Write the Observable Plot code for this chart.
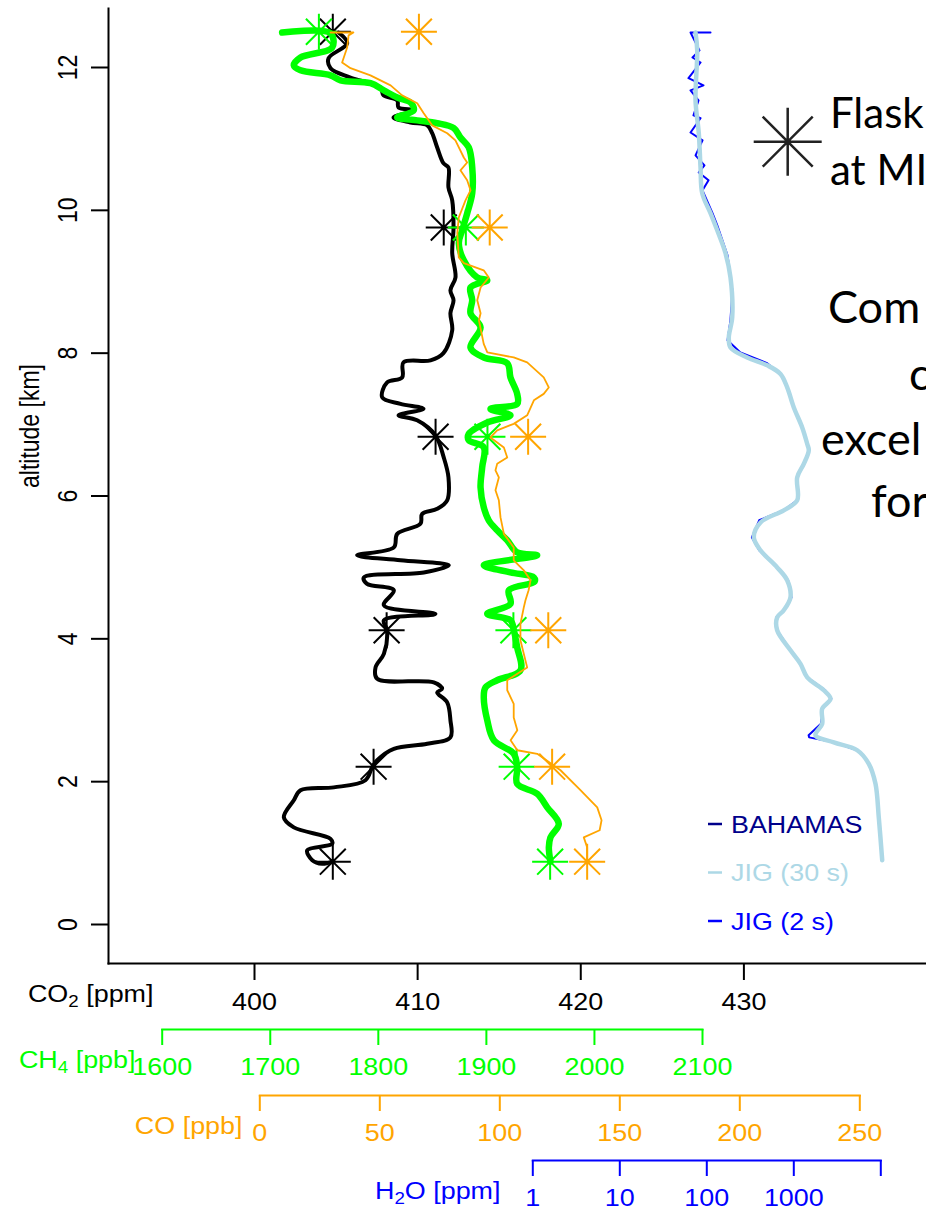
<!DOCTYPE html>
<html><head><meta charset="utf-8">
<script src="https://cdn.jsdelivr.net/npm/d3@7"></script>
<script src="https://cdn.jsdelivr.net/npm/@observablehq/plot@0.6"></script>
<style>
body{margin:0;background:#fff;}
#wrap{position:relative;width:926px;height:1210px;overflow:hidden;background:#fff;}
.layer{position:absolute;left:0;}
</style></head><body><div id="wrap"></div>
<script>
// ---------- tick values ----------
const altTicks = [0, 2, 4, 6, 8, 10, 12];
const co2Ticks = [400, 410, 420, 430];
const ch4Ticks = [1600, 1700, 1800, 1900, 2000, 2100];
const coTicks = [0, 50, 100, 150, 200, 250];
const h2oTicks = [1, 10, 100, 1000, 10000];
const h2oTickLabels = ["1", "10", "100", "1000", ""];

// ---------- flask samples (altitude km) ----------
const flaskAlt = [12.5, 9.76, 6.83, 4.12, 2.21, 0.88];
const flaskCO2 = [404.8, 411.6, 411.1, 408.1, 407.3, 404.8];
const flaskCH4 = [1745, 1881, 1901, 1925, 1928, 1959];
const flaskCO = [66.3, 95.8, 111.8, 120.2, 121.8, 136.4];

// ---------- profiles: [altitude km, value] ----------
const co2Profile = [
[12.49,405.15],[12.34,405.68],[12.13,404.54],[11.99,404.66],[11.86,405.88],[11.72,407.72],[11.61,407.91],
[11.54,408.75],[11.44,408.83],[11.40,409.75],[11.30,408.52],[11.23,409.56],[11.19,410.59],[11.08,410.89],
[10.88,411.20],[10.66,411.58],[10.60,411.89],[10.32,411.89],[10.14,412.12],[9.76,412.20],[9.40,412.12],
[9.06,412.32],[8.88,412.01],[8.74,412.20],[8.56,412.01],[8.32,412.12],[8.00,411.58],[7.90,410.79],
[7.87,409.13],[7.66,409.05],[7.59,408.13],[7.38,407.83],[7.29,408.95],[7.22,410.36],[7.13,408.83],
[7.06,409.97],[6.85,411.09],[6.54,411.60],[6.26,411.89],[5.94,411.81],[5.82,411.20],[5.75,410.28],
[5.61,410.17],[5.47,408.75],[5.28,408.54],[5.17,406.29],[5.10,408.95],[5.03,411.91],[4.93,410.38],
[4.86,406.70],[4.77,406.9],[4.68,408.54],[4.47,407.93],[4.35,411.09],[4.26,407.93],[4.12,408.13],
[3.79,407.93],[3.60,407.42],[3.44,407.52],[3.39,410.99],[3.30,411.50],[3.25,411.20],[3.11,411.81],
[2.86,412.01],[2.62,412.01],[2.53,410.59],[2.46,408.54],[2.30,407.52],[2.20,407.21],[2.02,406.80],
[1.92,404.86],[1.88,402.82],[1.74,402.41],[1.50,401.80],[1.36,402.41],[1.20,404.66],[1.13,404.76],
[1.04,403.23],[0.90,403.54],[0.85,404.15],[0.88,404.76]
];
const ch4Profile = [
[12.49,1711.0],[12.48,1755.7],[12.28,1757.3],[12.14,1728.0],[12.03,1721.8],[11.96,1728.0],[11.89,1755.7],
[11.82,1765.0],[11.78,1792.8],[11.68,1805.1],[11.58,1817.5],[11.51,1829.8],[11.40,1832.8],[11.30,1817.5],
[11.26,1836.0],[11.22,1854.5],[11.15,1869.9],[11.02,1876.0],[10.88,1883.7],[10.60,1886.9],[10.24,1886.9],
[9.96,1882.3],[9.72,1877.6],[9.54,1874.5],[9.30,1879.1],[9.06,1891.5],[9.02,1900.8],[8.92,1885.3],
[8.74,1886.9],[8.56,1885.3],[8.36,1894.6],[8.08,1885.3],[7.94,1897.6],[7.86,1919.3],[7.66,1922.3],
[7.43,1928.5],[7.29,1928.5],[7.22,1903.8],[7.13,1922.3],[7.03,1900.8],[6.87,1883.7],[6.78,1883.7],
[6.68,1897.6],[6.40,1896.1],[6.12,1894.6],[5.84,1897.6],[5.66,1902.2],[5.52,1910.0],[5.38,1919.3],
[5.21,1928.5],[5.17,1947.0],[5.03,1897.6],[4.93,1922.3],[4.86,1943.9],[4.80,1944.5],[4.68,1920.8],
[4.49,1922.3],[4.35,1900.8],[4.26,1922.3],[4.12,1925.4],[3.88,1928.5],[3.56,1931.6],[3.42,1910.0],
[3.32,1899.2],[3.18,1897.6],[2.86,1900.8],[2.58,1906.9],[2.39,1925.4],[2.20,1928.5],[1.97,1928.5],
[1.83,1947.0],[1.64,1956.3],[1.41,1967.0],[1.22,1959.3],[1.08,1957.8],[0.88,1959.3]
];
const coProfile = [
[12.49,29.5],[12.49,39.0],[12.45,37.0],[12.28,36.4],[12.07,34.3],[11.99,37.8],[11.89,46.1],[11.75,54.5],
[11.61,59.3],[11.50,65.6],[11.36,68.3],[11.19,71.8],[11.08,78.1],[10.98,81.5],[10.74,85.0],[10.67,86.4],
[10.56,83.6],[10.42,86.4],[10.28,87.8],[10.14,85.7],[9.90,82.9],[9.68,82.3],[9.34,82.9],[9.26,85.0],
[9.16,93.3],[9.06,95.4],[8.92,92.0],[8.74,90.6],[8.56,92.0],[8.46,91.3],[8.13,93.3],[8.01,94.8],
[7.94,105.8],[7.87,111.4],[7.66,118.3],[7.52,120.4],[7.43,118.3],[7.34,114.2],[7.13,111.4],[7.01,105.8],
[6.92,98.9],[6.82,96.1],[6.68,101.7],[6.54,103.1],[6.45,98.9],[6.36,98.2],[6.26,99.6],[6.08,98.2],
[5.94,99.6],[5.70,100.3],[5.47,101.7],[5.28,105.8],[5.10,105.8],[4.96,110.0],[4.82,112.8],[4.68,112.0],
[4.54,110.7],[4.44,110.0],[4.21,108.6],[3.98,108.6],[3.60,111.4],[3.42,103.1],[3.28,103.1],[3.09,105.8],
[2.90,105.8],[2.72,107.3],[2.58,104.5],[2.44,107.3],[2.39,115.6],[2.16,125.3],[1.88,133.6],[1.64,140.6],
[1.46,142.4],[1.32,141.6],[1.22,135.0],[1.08,136.4],[0.88,136.4]
];
const h2oJig30 = [
[12.49,74.2],[12.24,77.6],[11.54,74.2],[11.08,80.9],[10.60,84.7],[10.24,88.6],[9.96,110.3],[9.72,131.8],
[9.40,164.0],[9.06,187.2],[8.50,195.9],[8.22,179.0],[8.08,187.2],[7.94,291.3],[7.83,494.6],[7.71,703.0],
[7.52,839.3],[7.24,1000],[6.96,1249],[6.73,1426],[6.64,1487],[6.45,1303],[6.26,1094],[5.94,1094],
[5.80,767],[5.63,414],[5.42,347],[5.24,414],[5.00,644],[4.82,839],[4.58,916],[4.40,767],[4.30,644],
[4.12,644],[3.84,916],[3.65,1194],[3.46,1426],[3.28,2213],[3.16,2642],[3.02,2119],[2.81,2119],
[2.65,1775],[2.55,2884],[2.44,5353],[2.25,7283],[1.97,8690],[1.50,9480],[0.90,10380]
];
const h2oJig2 = [
[12.49,110.3],[12.49,65.0],[12.24,82.4],[12.14,68.5],[12.07,84.7],[11.85,61.6],[11.75,91.6],[11.68,65.0],
[11.54,80.3],[11.33,70.3],[11.29,84.7],[11.09,65.0],[10.98,89.3],[10.77,74.2],[10.63,94.0],[10.53,80.9],
[10.42,104.7],[10.28,89.3],[9.96,116.3],[9.79,132],[9.37,173],[8.88,197],[8.46,187],[8.18,173],
[8.01,243],[7.86,494],[7.71,703],[7.52,839],[7.24,1000],[6.96,1249],[6.73,1426],[6.64,1487],[6.45,1303],
[6.26,1094],[5.94,1094],[5.80,767],[5.66,400],[5.42,330],[5.24,400],[5.00,644],[4.82,860],[4.58,940],
[4.40,767],[4.30,630],[4.12,644],[3.84,916],[3.65,1194],[3.46,1426],[3.28,2300],[3.16,2700],[3.02,2119],
[2.81,2050],[2.65,1480],[2.62,1500],[2.55,2884],[2.44,5353]
];
const legendItems = ["BAHAMAS", "JIG (30 s)", "JIG (2 s)"];
const legendColors = ["#00008B", "#ADD8E6", "#0000FF"];

// ---------- scales ----------
const W = 926, H = 1010;
const Y = {domain: [0, 12], range: [924, 67]};
const XCO2 = {type: "linear", domain: [400, 430], range: [254, 743.4]};
const XCH4 = {type: "linear", domain: [1600, 2100], range: [161.7, 702]};
const XCO = {type: "linear", domain: [0, 250], range: [259.3, 859.3]};
const XH2O = {type: "log", domain: [1, 10000], range: [532.3, 880.3]};

const FONT = "'Liberation Sans', Arial, Helvetica, sans-serif";
const baseStyle = {background: "transparent", fontFamily: FONT, fontSize: "23px", overflow: "visible"};

// 8-armed asterisk (R pch 8)
const asterisk8 = {
  draw(ctx, size) {
    const r = Math.sqrt(size / Math.PI), d = r * 0.72;
    ctx.moveTo(-r, 0); ctx.lineTo(r, 0);
    ctx.moveTo(0, -r); ctx.lineTo(0, r);
    ctx.moveTo(-d, -d); ctx.lineTo(d, d);
    ctx.moveTo(-d, d); ctx.lineTo(d, -d);
  }
};

function panel(x, marks) {
  return Plot.plot({
    width: W, height: H, marginLeft: 108, marginRight: 0, marginTop: 8, marginBottom: H - 963,
    x: {...x, axis: null}, y: {...Y, axis: null}, style: baseStyle, marks
  });
}
const flaskDots = (vals, color) => Plot.dot(flaskAlt, {
  x: (d, i) => vals[i], y: d => d, symbol: asterisk8, r: 18, fill: "none", stroke: color, strokeWidth: 2
});

const co2Panel = panel(XCO2, [
  Plot.frame({anchor: "left", strokeWidth: 2}),
  Plot.frame({anchor: "bottom", strokeWidth: 2}),
  Plot.axisX({ticks: co2Ticks, tickSize: 17, tickPadding: 13, strokeWidth: 2, tickFormat: d => String(d), label: null}),
  Plot.axisY({ticks: altTicks, tickSize: 17, strokeWidth: 2, tickFormat: () => "", label: null}),
  Plot.text(altTicks, {y: d => d, text: d => String(d), frameAnchor: "left", dx: -40, rotate: -90, textAnchor: "middle", lineAnchor: "middle", fill: "black"}),
  Plot.text(["altitude [km]"], {frameAnchor: "left", dx: -78, dy: -60, rotate: -90, textAnchor: "middle", lineAnchor: "middle", fill: "black"}),
  Plot.text(["CO\u2082 [ppm]"], {frameAnchor: "bottom-left", dx: 45, dy: 31, textAnchor: "end", lineAnchor: "middle", fill: "black"}),
  Plot.line(co2Profile, {x: d => d[1], y: d => d[0], stroke: "black", strokeWidth: 4, curve: "catmull-rom"}),
  flaskDots(flaskCO2, "black")
]);
const ch4Panel = panel(XCH4, [
  Plot.line(ch4Profile, {x: d => d[1], y: d => d[0], stroke: "#00FF00", strokeWidth: 6.5, curve: "catmull-rom"}),
  flaskDots(flaskCH4, "#00FF00")
]);
const coPanel = panel(XCO, [
  Plot.line(coProfile, {x: d => d[1], y: d => d[0], stroke: "#FFA500", strokeWidth: 1.8}),
  flaskDots(flaskCO, "#FFA500")
]);
const h2oPanel = panel(XH2O, [
  Plot.line(h2oJig2, {x: d => d[1], y: d => d[0], stroke: "#0000FF", strokeWidth: 2}),
  Plot.line(h2oJig30, {x: d => d[1], y: d => d[0], stroke: "#ADD8E6", strokeWidth: 4.5, curve: "catmull-rom"})
]);

function subAxis(x, ticks, color, label, labelDx, tickFormat) {
  const [a, b] = x.range;
  return Plot.plot({
    width: W, height: 70, marginTop: 10, marginBottom: 60, marginLeft: a, marginRight: W - b,
    x: {...x, axis: null}, style: baseStyle,
    marks: [
      Plot.frame({anchor: "bottom", stroke: color, strokeWidth: 2}),
      Plot.axisX({ticks, tickSize: 16, tickPadding: 13, stroke: color, fill: color, strokeWidth: 2, tickFormat, label: null}),
      Plot.text([label], {frameAnchor: "bottom-left", dx: labelDx, dy: 31, textAnchor: "end", lineAnchor: "middle", fill: color})
    ]
  });
}
const ch4Axis = subAxis(XCH4, ch4Ticks, "#00FF00", "CH\u2084 [ppb]", -26.7, d => String(d));
const coAxis = subAxis(XCO, coTicks, "#FFA500", "CO [ppb]", -17.3, d => String(d));
const h2oAxis = subAxis(XH2O, h2oTicks, "#0000FF", "H\u2082O [ppm]", -32.3, d => h2oTickLabels[h2oTicks.indexOf(d)]);

const wrap = document.getElementById("wrap");
function place(node, top) {
  node.classList.add("layer");
  node.style.top = top + "px";
  wrap.appendChild(node);
}
place(co2Panel, 0); place(ch4Panel, 0); place(coPanel, 0); place(h2oPanel, 0);
place(ch4Axis, 1029 - 10); place(coAxis, 1095 - 10); place(h2oAxis, 1160 - 10);

// R-style subscripts: a smaller, lowered digit
const SUB = {"\u2082": "2", "\u2084": "4"};
function subscripts(svg) {
  svg.querySelectorAll("text").forEach(t => {
    const s = t.textContent, m = s.match(/[\u2082\u2084]/);
    if (!m || t.children.length) return;
    const i = m.index;
    t.textContent = "";
    const NSs = "http://www.w3.org/2000/svg";
    const a = document.createElementNS(NSs, "tspan"); a.textContent = s.slice(0, i);
    const b = document.createElementNS(NSs, "tspan"); b.textContent = SUB[m[0]];
    b.setAttribute("font-size", "16px"); b.setAttribute("dy", "5");
    const c = document.createElementNS(NSs, "tspan"); c.textContent = s.slice(i + 1);
    c.setAttribute("dy", "-5");
    t.append(a, b, c);
  });
}
// horizontal stretch of the R-style text (the original figure is slightly widened)
function stretch(svg, s) {
  svg.querySelectorAll("text").forEach(t => {
    const tr = t.getAttribute("transform") || "";
    if (tr.includes("rotate")) {
      t.setAttribute("transform", tr.replace("rotate", `scale(${s},1) rotate`));
    } else {
      const L = t.getComputedTextLength();
      if (L > 0) {
        t.setAttribute("textLength", (L * s).toFixed(2));
        t.setAttribute("lengthAdjust", "spacingAndGlyphs");
      }
    }
  });
}
[co2Panel, ch4Axis, coAxis, h2oAxis].forEach(s => { subscripts(s); stretch(s, 1.17); });

// ---------- annotation layer: legend + slide text ----------
const NS = "http://www.w3.org/2000/svg";
const ann = document.createElementNS(NS, "svg");
ann.setAttribute("width", W); ann.setAttribute("height", 1210);
ann.style.position = "absolute"; ann.style.left = "0"; ann.style.top = "0";
function el(tag, attrs, text) {
  const e = document.createElementNS(NS, tag);
  for (const k in attrs) e.setAttribute(k, attrs[k]);
  if (text != null) e.textContent = text;
  ann.appendChild(e);
  return e;
}
legendItems.forEach((name, i) => {
  const yb = 833 + i * 48.5;
  el("line", {x1: 708, x2: 722, y1: yb - 9, y2: yb - 9, stroke: legendColors[i], "stroke-width": 2.5});
  el("text", {x: 731, y: yb, fill: legendColors[i], "font-family": FONT, "font-size": 24,
    transform: `translate(731,0) scale(1.12,1) translate(-731,0)`}, name);
});
// flask legend glyph
const gx = 787.7, gy = 141.7, R = 34, D = 25;
el("path", {d: `M${gx-R},${gy}H${gx+R}M${gx},${gy-R}V${gy+R}M${gx-D},${gy-D}L${gx+D},${gy+D}M${gx-D},${gy+D}L${gx+D},${gy-D}`,
  stroke: "#222", "stroke-width": 2.5, fill: "none"});
el("circle", {cx: gx, cy: gy, r: 3, fill: "#222"});
const BIG = "Lato, 'Open Sans', 'Noto Sans', sans-serif";
[["Flask", 830, 128, 42], ["at MI", 830, 185, 42], ["Com", 828, 323, 45], ["c", 909, 390, 45], ["excel", 821, 455, 45], ["for", 871, 517, 45]]
  .forEach(([t, x, y, fs]) => el("text", {x, y, fill: "#000", "font-family": BIG, "font-size": fs}, t));
wrap.appendChild(ann);
</script></body></html>
